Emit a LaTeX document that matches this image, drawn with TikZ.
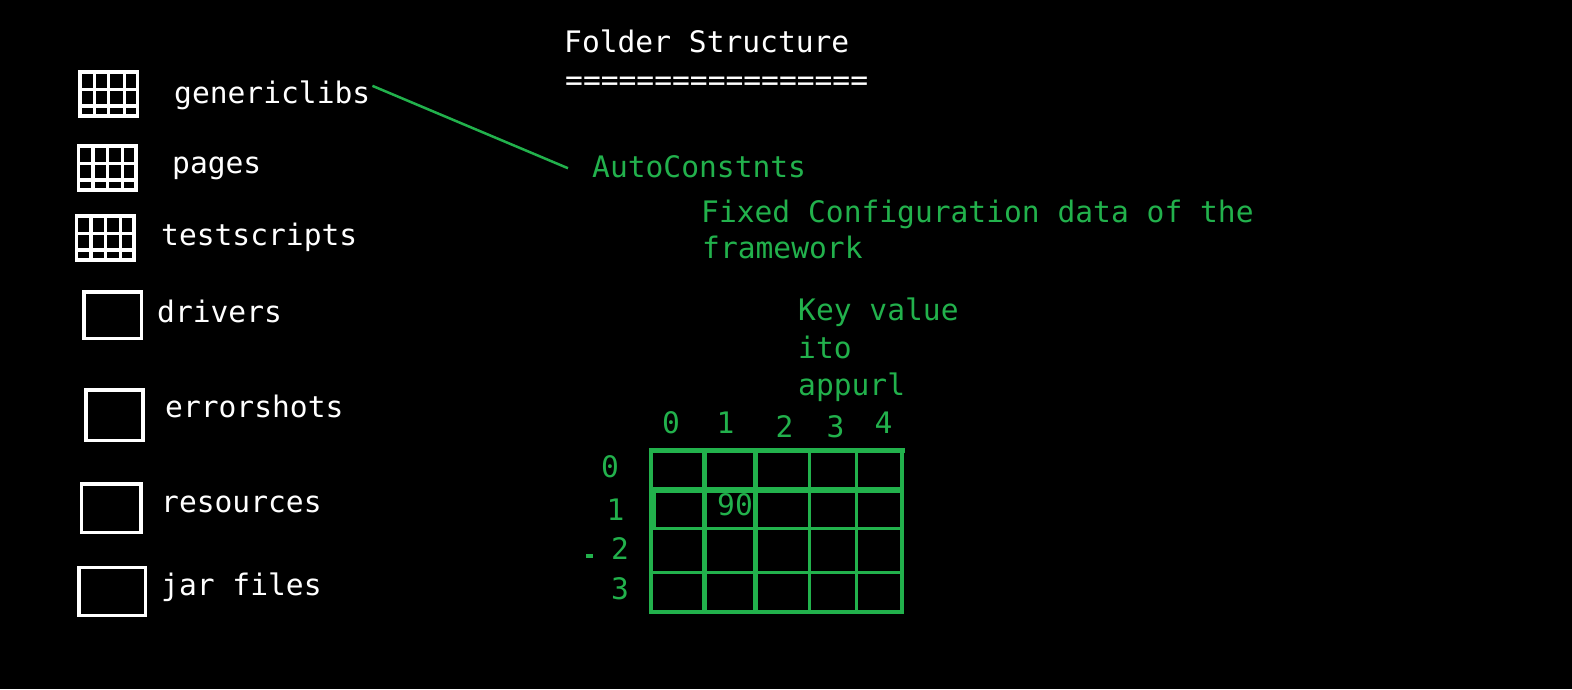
\documentclass[tikz,border=0pt]{standalone}
\usepackage{fontspec}
\setmonofont{DejaVu Sans Mono}
\usetikzlibrary{calc}
\definecolor{paintgreen}{RGB}{34,177,76}
\begin{document}
\begin{tikzpicture}[x=1pt,y=-1pt,font=\ttfamily\fontsize{29.6pt}{36pt}\selectfont]
\tikzstyle{plain}=[text=white, inner sep=0pt, anchor=base west]
\tikzstyle{note}=[text=paintgreen, inner sep=0pt, anchor=base west]
\tikzstyle{digit}=[text=paintgreen, inner sep=0pt, anchor=base]
\tikzstyle{folderbox}=[draw=white, line width=3.3pt, inner sep=0pt]
\tikzstyle{libgrid}=[folderbox, minimum width=57.5pt, minimum height=44pt,
  path picture={
    \foreach \f in {0.25,0.5,0.77}
      \draw[white, line width=3.3pt]
        ($(path picture bounding box.north west)!\f!(path picture bounding box.north east)$) --
        ($(path picture bounding box.south west)!\f!(path picture bounding box.south east)$);
    \foreach \f in {0.4,0.775}
      \draw[white, line width=3.3pt]
        ($(path picture bounding box.north west)!\f!(path picture bounding box.south west)$) --
        ($(path picture bounding box.north east)!\f!(path picture bounding box.south east)$);
  }]
\tikzstyle{tablegrid}=[draw=paintgreen]
\tikzstyle{link}=[draw=paintgreen, line width=2.5pt]

\useasboundingbox (0,0) rectangle (1572,689);
\fill[black] (0,0) rectangle (1572,689);

% title
\node[plain] (title) at (564,52) {Folder Structure};
\node[plain] (rule) at (565,90) {=================};

% folders
\node[libgrid] (genericicon) at (108.8,93.9) {};
\node[libgrid] (pagesicon) at (107.3,168) {};
\node[libgrid] (testicon) at (105.3,238) {};
\node[folderbox, minimum width=57.7pt, minimum height=46.7pt] (driversicon) at (112.9,315.4) {};
\node[folderbox, minimum width=57pt, minimum height=50.7pt] (errorsicon) at (114.5,415.4) {};
\node[folderbox, minimum width=59.3pt, minimum height=48.7pt] (resourcesicon) at (111.4,508.4) {};
\node[folderbox, minimum width=66.7pt, minimum height=48.3pt] (jaricon) at (112.4,591.5) {};

\node[plain] (generic) at (174,103) {genericlibs};
\node[plain] (pages) at (172,173) {pages};
\node[plain] (tests) at (161,245) {testscripts};
\node[plain] (drivers) at (157,322) {drivers};
\node[plain] (errors) at (165,417) {errorshots};
\node[plain] (resources) at (161,512) {resources};
\node[plain] (jars) at (161,595) {jar files};

% notes
\node[note] (autoconst) at (592,177) {AutoConstnts};
\node[note] (fixed) at (701,222) {Fixed Configuration data of the};
\node[note] (framework) at (702,258) {framework};
\node[note] (keyvalue) at (798,320) {Key value};
\node[note] (ito) at (798,358) {ito};
\node[note] (appurl) at (798,395) {appurl};

\draw[link] ([shift={(2,-9)}]generic.east) -- ([shift={(-24,2)}]autoconst.west);

% key/value table
\draw[tablegrid, line width=4.5pt] (651,450.5) rectangle (902,612);
\draw[tablegrid, line width=5pt] (648.8,450.5) -- (904.5,450.5);
\draw[tablegrid, line width=5.5pt] (651,490) -- (902,490);
\foreach \y in {528.5,572.5}
  \draw[tablegrid, line width=3.5pt] (651,\y) -- (902,\y);
\draw[tablegrid, line width=5.5pt] (704.5,450) -- (704.5,612);
\draw[tablegrid, line width=4.5pt] (755.5,450) -- (755.5,612);
\foreach \x in {809.5,856.5}
  \draw[tablegrid, line width=3pt] (\x,450) -- (\x,612);
\draw[tablegrid, line width=3.5pt] (654.5,490) -- (654.5,528.5);

\foreach \n/\x/\y in {0/671/433, 1/725.5/433, 2/784.5/437, 3/835.5/437, 4/883.5/433}
  \node[digit] (col\n) at (\x,\y) {\n};
\foreach \n/\x/\y in {0/610/477, 1/615.5/520, 2/620/559, 3/620/599}
  \node[digit] (row\n) at (\x,\y) {\n};
\node[digit] (cell) at (735,515) {90};
\fill[paintgreen] (586,554) rectangle (593,558);
\end{tikzpicture}
\end{document}
